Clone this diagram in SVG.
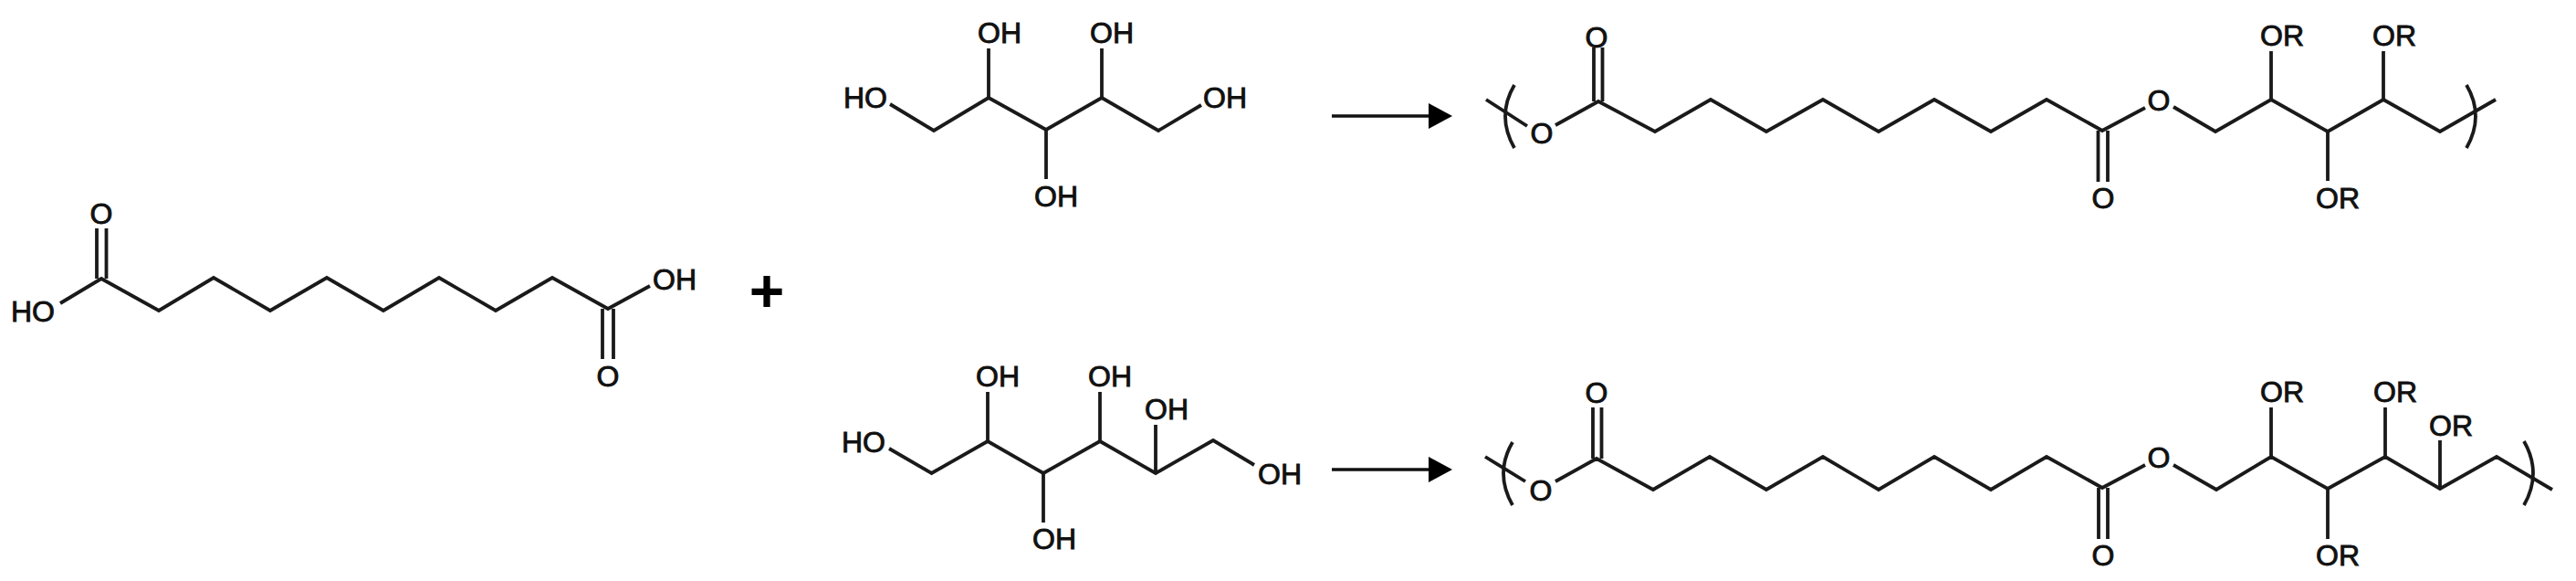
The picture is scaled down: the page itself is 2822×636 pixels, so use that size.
<svg xmlns="http://www.w3.org/2000/svg" width="2822" height="636" viewBox="0 0 2822 636">
<defs>
<style>
.b{fill:none;stroke:#1a1a1a;stroke-width:3.800;stroke-linejoin:miter;stroke-linecap:butt}
.a{fill:none;stroke:#111;stroke-width:3.500}
text{font-family:"Liberation Sans",Arial,sans-serif;font-size:32px;fill:#111;stroke:#111;stroke-width:.9;text-anchor:middle}
.plus{font-size:66px;font-weight:bold;fill:#000;stroke:none}
</style>
<marker id="head" markerUnits="userSpaceOnUse" markerWidth="27" markerHeight="29" refX="0" refY="14" orient="auto">
<path d="M0 0L26 14L0 28Z" fill="#000"/>
</marker>
</defs>
<rect width="2822" height="636" fill="#fff"/>
<g id="diacid">
<path class="b" d="M66 332L111 305L174 340L234 304L296 340L358 304L420 340L481 304L543 340L605 304L666 338L712 313"/>
<path class="b" d="M106 250V305M116.500 250V305M660 338V393M672 338V393"/>
<text x="36" y="352">HO</text>
<text x="111" y="245">O</text>
<text x="739" y="317">OH</text>
<text x="666" y="423">O</text>
</g>
<g id="plus"><text class="plus" x="840" y="341">+</text></g>
<g id="pentitol">
<path class="b" d="M975 114L1023 143L1083 107L1146 142L1207 107L1269 143L1316 115"/>
<path class="b" d="M1083 53V107M1207 53V107M1146 142V196"/>
<text x="948" y="118">HO</text>
<text x="1095" y="47">OH</text>
<text x="1218" y="47">OH</text>
<text x="1157" y="226">OH</text>
<text x="1342" y="118">OH</text>
</g>
<g id="hexitol">
<path class="b" d="M974 491L1020.500 518L1082 483L1143 518L1205 483L1266 518L1329 482L1374 509"/>
<path class="b" d="M1082 429V483M1205 429V483M1266 465V518M1143 518V572"/>
<text x="946" y="495">HO</text>
<text x="1093" y="423">OH</text>
<text x="1216" y="423">OH</text>
<text x="1278" y="459">OH</text>
<text x="1155" y="601">OH</text>
<text x="1402" y="530">OH</text>
</g>
<g id="connectors">
<path class="a" d="M1459 127H1565" marker-end="url(#head)"/>
<path class="a" d="M1459 514H1565" marker-end="url(#head)"/>
</g>
<g id="polyester-pentitol">
<path class="b" d="M1628 109L1673 138M1704 137L1751 111L1813 144L1874 109L1935 144L1997 109L2058 144L2119 109L2181 144L2242 109L2303 143L2350 118M2381 117L2427 144L2488 109L2550 144L2611 109L2673 144L2734 109"/>
<path class="b" d="M1746 52V111M1755.500 52V111M2298.500 143V199M2309 143V199M2488 56V109M2611 56V109M2550 144V198"/>
<path class="b" d="M1659 93Q1639 127 1659 162M2702 93Q2722 127 2702 162"/>
<text x="1689" y="157">O</text>
<text x="1749" y="52">O</text>
<text x="2365" y="121">O</text>
<text x="2304" y="228">O</text>
<text x="2500" y="50">OR</text>
<text x="2623" y="50">OR</text>
<text x="2561" y="228">OR</text>
</g>
<g id="polyester-hexitol">
<path class="b" d="M1627 500L1671 527M1704 527L1749 502L1811 536L1873 500L1935 536L1997 500L2058 536L2119 500L2181 536L2242 500L2303 534L2350 509M2381 509L2428 536L2488 500L2550 535L2613 500L2673 535L2735 500L2796 536"/>
<path class="b" d="M1745 446V502M1754.500 446V502M2299 534V590M2309 534V590M2488 446V500M2613 446V500M2673 482V535M2550 535V590"/>
<path class="b" d="M1657 484Q1637 518 1657 553M2765 483Q2785 518 2765 553"/>
<text x="1688" y="548">O</text>
<text x="1749" y="441">O</text>
<text x="2365" y="512">O</text>
<text x="2304" y="619">O</text>
<text x="2500" y="440">OR</text>
<text x="2624" y="440">OR</text>
<text x="2685" y="477">OR</text>
<text x="2561" y="619">OR</text>
</g>
</svg>
